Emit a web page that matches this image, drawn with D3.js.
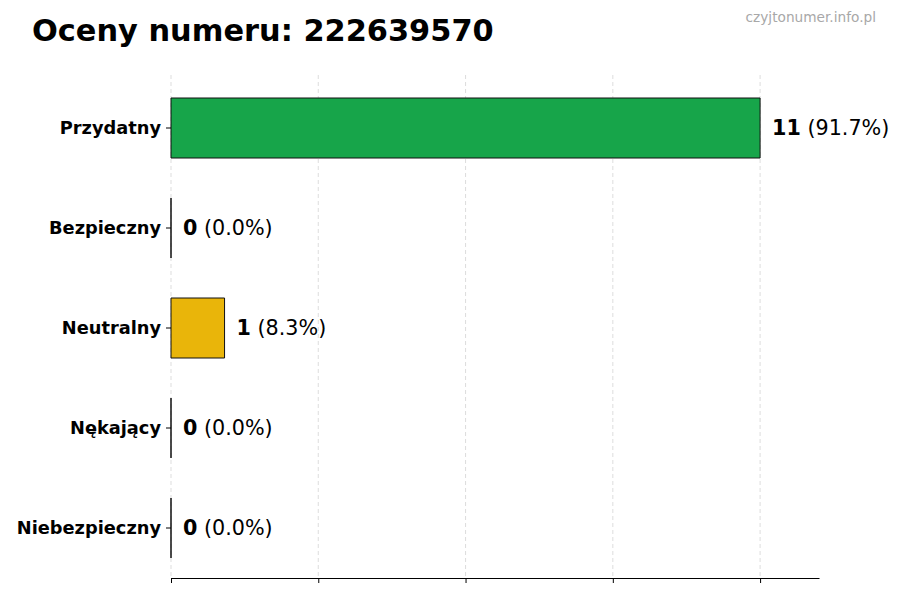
<!DOCTYPE html>
<html>
<head>
<meta charset="utf-8">
<script src="https://cdn.jsdelivr.net/npm/d3@7"></script>
<style>
  body { margin: 0; background: #fff; }
  svg { font-family: "DejaVu Sans", sans-serif; }
</style>
</head>
<body>
<div id="chart"></div>
<script>
// Ratings for the phone number
const categories = ['Przydatny', 'Bezpieczny', 'Neutralny', 'Nękający', 'Niebezpieczny'];
const counts = [11, 0, 1, 0, 0];
const colors = ['#17a54a', '#6c6c6c', '#e9b50a', '#e05a2b', '#c21f1f'];
const gridTicks = [0, 2.75, 5.5, 8.25, 11];

const width = 900, height = 600;
const margin = {top: 78, right: 81, bottom: 22, left: 171};
const total = d3.sum(counts);

const svg = d3.select('#chart')
    .append('svg')
    .attr('width', width)
    .attr('height', height);

const x = d3.scaleLinear()
    .domain([0, d3.max(counts) * 1.1])
    .range([margin.left, width - margin.right]);

const y = d3.scaleBand()
    .domain(categories)
    .range([margin.top, height - margin.bottom])
    .paddingInner(0.4)
    .paddingOuter(0.2);

// Dashed vertical grid
svg.append('g')
    .selectAll('line')
    .data(gridTicks)
    .enter().append('line')
    .attr('x1', d => x(d))
    .attr('x2', d => x(d))
    .attr('y1', margin.top - 3)
    .attr('y2', height - margin.bottom)
    .attr('stroke', '#d4d4d4')
    .attr('stroke-width', 0.8)
    .attr('stroke-dasharray', '4,3');

// Bars as paths so zero-width bars still show their outline
svg.append('g')
    .selectAll('path')
    .data(categories)
    .enter().append('path')
    .attr('d', (d, i) => {
        const w = x(counts[i]) - x(0);
        return `M${x(0)},${y(d)}h${w}v${y.bandwidth()}h${-w}Z`;
    })
    .attr('fill', (d, i) => colors[i])
    .attr('stroke', '#111')
    .attr('stroke-width', 1);

// Bottom axis, no labels
const xAxis = svg.append('g')
    .attr('transform', `translate(0,${height - margin.bottom})`)
    .call(d3.axisBottom(x).tickValues(gridTicks).tickFormat('').tickSize(5).tickSizeOuter(0));
xAxis.select('.domain').attr('stroke', '#000').attr('stroke-width', 1.2);
xAxis.selectAll('.tick line').attr('stroke', '#000');

// Left axis labels (no spine)
const yAxis = svg.append('g')
    .attr('transform', `translate(${margin.left},0)`)
    .call(d3.axisLeft(y).tickSize(5).tickPadding(5));
yAxis.select('.domain').remove();
yAxis.selectAll('.tick line').attr('stroke', '#000');
yAxis.selectAll('.tick text')
    .attr('fill', '#000')
    .style('font-size', '17.8px')
    .style('font-weight', 'bold')
    .style('font-family', '"DejaVu Sans", sans-serif');

// Value labels
const labels = svg.append('g')
    .selectAll('text')
    .data(categories)
    .enter().append('text')
    .attr('x', (d, i) => x(counts[i]) + 12)
    .attr('y', d => y(d) + y.bandwidth() / 2)
    .attr('dy', '0.36em')
    .style('font-size', '20.7px')
    .attr('fill', '#000');

labels.append('tspan')
    .style('font-weight', 'bold')
    .text((d, i) => counts[i]);
labels.append('tspan')
    .text((d, i) => ' (' + (counts[i] / total * 100).toFixed(1) + '%)');

// Title
svg.append('text')
    .attr('x', 32)
    .attr('y', 41)
    .style('font-size', '30.4px')
    .style('font-weight', 'bold')
    .text('Oceny numeru: 222639570');

// Watermark
svg.append('text')
    .attr('x', 876)
    .attr('y', 22)
    .attr('text-anchor', 'end')
    .style('font-size', '13.7px')
    .attr('fill', '#a8a8a8')
    .text('czyjtonumer.info.pl');
</script>
</body>
</html>
